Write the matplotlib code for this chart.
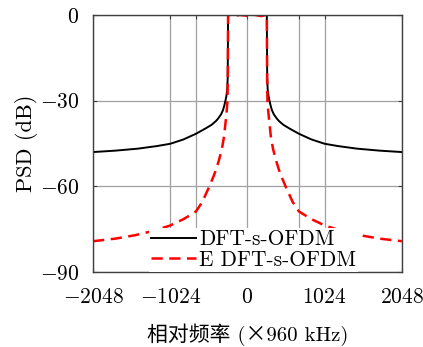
import numpy as np
import matplotlib.pyplot as plt

plt.rcParams['font.family'] = ['cmr10', 'Noto Sans CJK SC']
plt.rcParams['mathtext.fontset'] = 'cm'
plt.rcParams['axes.unicode_minus'] = False

# PSD of DFT-s-OFDM (black)
freq_dft = [-2048, -1750, -1450, -1200, -1024, -850, -683, -560, -478, -420,
            -390, -350, -324, -305, -292, -280, -268, -262, -259, -257,
            -200, 0, 200,
            257, 259, 262, 268, 280, 292, 305, 324, 350, 390,
            420, 478, 560, 683, 850, 1024, 1200, 1450, 1750, 2048]
psd_dft = [-48.0, -47.5, -46.8, -45.9, -45.1, -43.6, -41.6, -39.8, -38.5, -37.2,
           -36.3, -34.8, -33.3, -31.5, -30.0, -28.5, -26.0, -22.0, -10.0, 0.0,
           0.0, 0.0, 0.0,
           0.0, -10.0, -22.0, -26.0, -28.5, -30.0, -31.5, -33.3, -34.8, -36.3,
           -37.2, -38.5, -39.8, -41.6, -43.6, -45.1, -45.9, -46.8, -47.5, -48.0]

# PSD of enhanced DFT-s-OFDM (red dashed)
freq_edft = [-2048, -1750, -1490, -1250, -1024, -850, -683, -600, -505, -450,
             -415, -380, -340, -310, -290, -275, -265, -260, -258, -257,
             -180, -100, 0, 100, 180,
             257, 258, 260, 265, 275, 290, 310, 340, 380, 415,
             450, 505, 600, 683, 850, 1024, 1250, 1490, 1750, 2048]
psd_edft = [-79.2, -78.3, -77.1, -75.6, -73.7, -71.5, -68.8, -65.5, -60.0, -56.5,
            -54.0, -51.0, -47.0, -42.5, -37.5, -33.5, -30.0, -20.0, -5.0, 0.0,
            -0.4, 0.0, -0.3, 0.0, -0.4,
            0.0, -5.0, -20.0, -30.0, -33.5, -37.5, -42.5, -47.0, -51.0, -54.0,
            -56.5, -60.0, -65.5, -68.8, -71.5, -73.7, -75.6, -77.1, -78.3, -79.2]

xticks = [-2048, -1024, 0, 1024, 2048]
xgrid = [-2048, -1024, -683, 0, 683, 1024, 2048]
yticks = [-90, -60, -30, 0]

fig = plt.figure(figsize=(4.23, 3.47), dpi=100)
ax = fig.add_axes([0.22, 0.216, 0.73, 0.741])

ax.plot(freq_dft, psd_dft, color='black', lw=1.4, label='DFT-s-OFDM')
ax.plot(freq_edft, psd_edft, color='red', lw=1.8, linestyle=(0, (4.5, 2.6)),
        label='E DFT-s-OFDM')

ax.set_xlim(-2048, 2048)
ax.set_ylim(-90, 0)
ax.set_xticks(xgrid)
ax.set_xticklabels([r'$%d$' % v if v in xticks else '' for v in xgrid])
ax.set_yticks(yticks)
ax.set_yticklabels([r'$%d$' % v for v in yticks])
ax.tick_params(direction='in', length=3, top=True, right=True, labelsize=15.5,
               color='#404040')
ax.tick_params(axis='x', pad=11)
ax.tick_params(axis='y', pad=10)
ax.grid(True, color='#a0a0a0', lw=0.9)
for s in ax.spines.values():
    s.set_color('#404040')
    s.set_linewidth(1.0)

ax.set_xlabel('相对频率 (×960 kHz)', fontsize=15, labelpad=12)
ax.set_ylabel('PSD (dB)', fontsize=16, labelpad=1)

leg = ax.legend(loc='lower left', bbox_to_anchor=(0.18, 0.0), fontsize=15.4,
                handlelength=2.1, handletextpad=0.15, labelspacing=0.05,
                borderpad=0.1, borderaxespad=0, fancybox=False, framealpha=1,
                edgecolor='none')

fig.savefig('out.png', dpi=100)
